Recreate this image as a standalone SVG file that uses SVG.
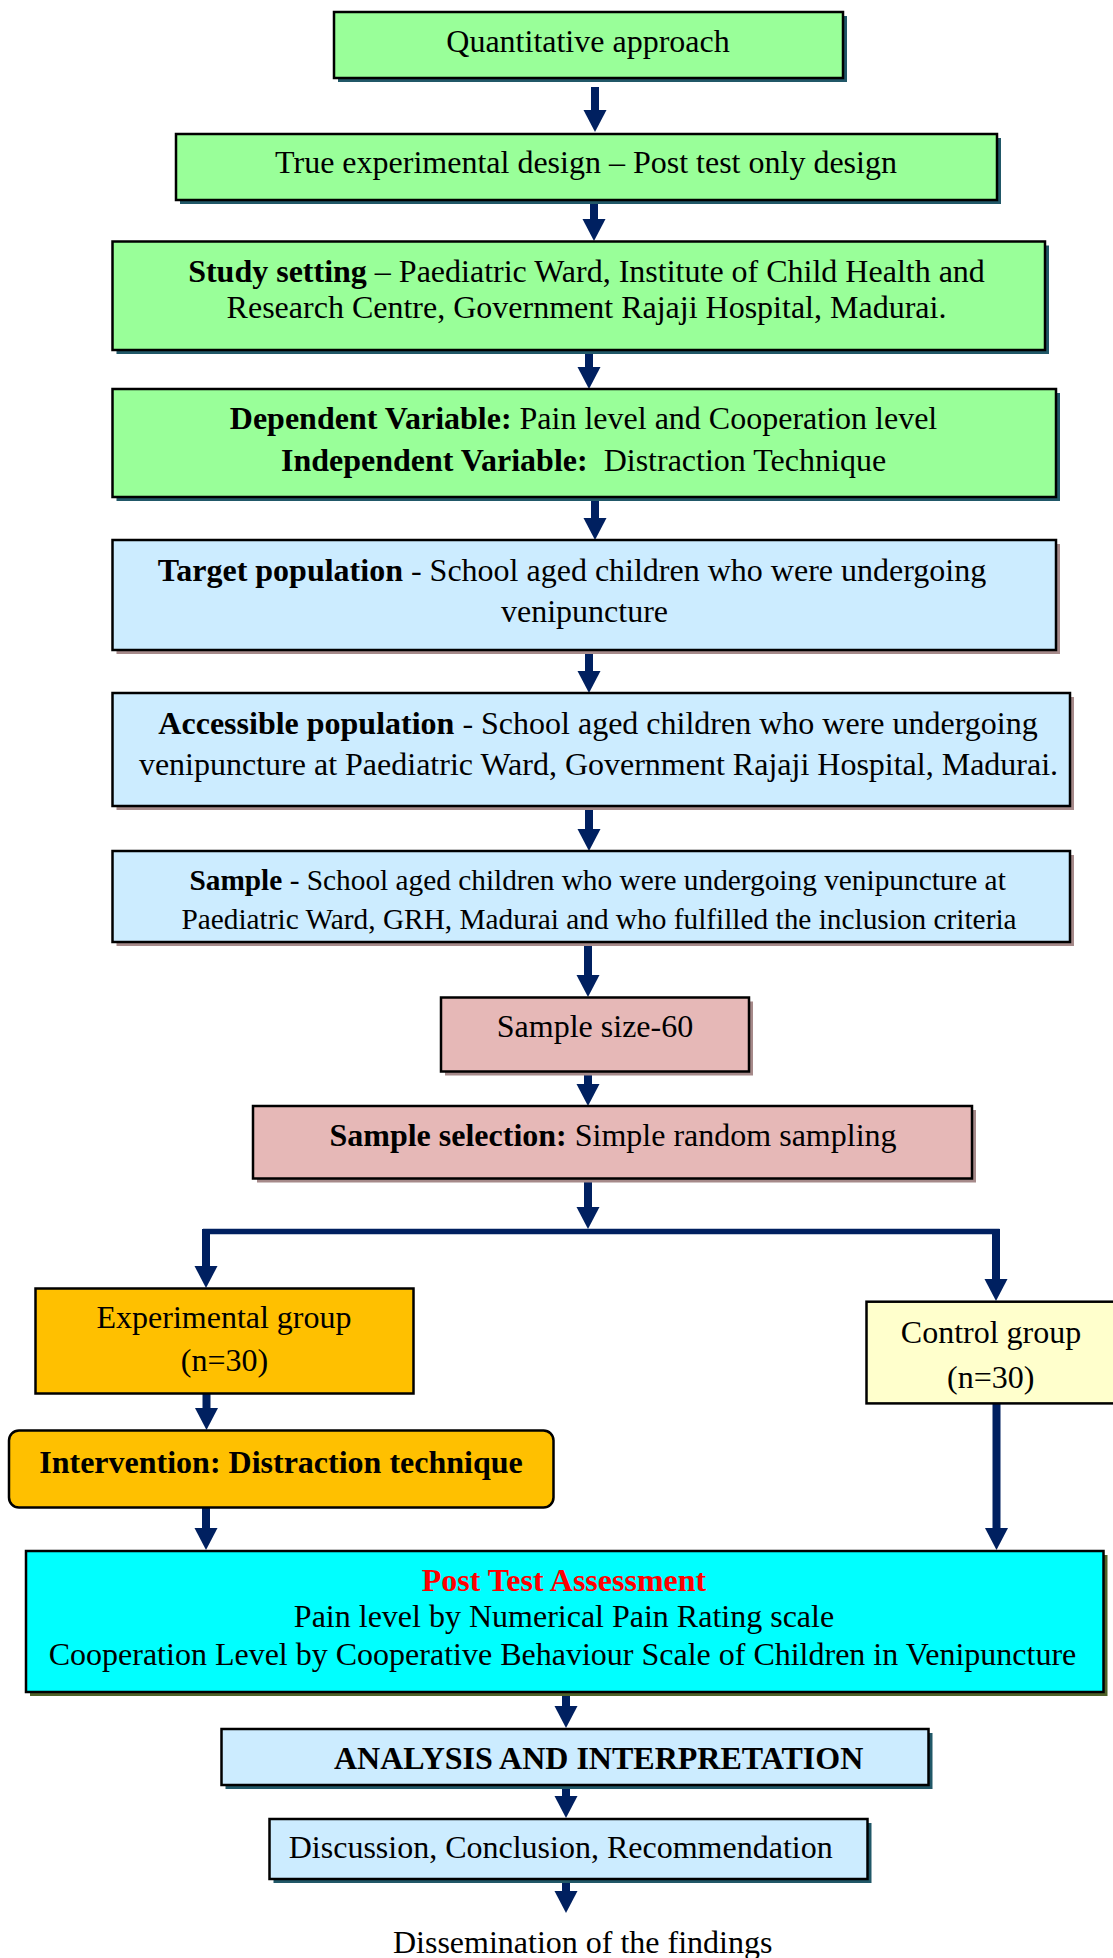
<svg xmlns="http://www.w3.org/2000/svg" width="1113" height="1958" viewBox="0 0 1113 1958">
<defs>
<marker id="ah" markerUnits="userSpaceOnUse" markerWidth="24" markerHeight="24" refX="0" refY="11.5" orient="auto">
<path d="M0,0 L22,11.5 L0,23 z" fill="#002060"/>
</marker>
<style>
.bx{stroke:#000;stroke-width:2.5}
.g{fill:#99FF99}.b{fill:#CCECFF}.p{fill:#E6B8B7}.o{fill:#FFC000}.y{fill:#FFFFCC}.c{fill:#00FFFF}
.sT{fill:#215868}.sR{fill:#A68A8A}.sO{fill:#4F6228}
text{font-family:"Liberation Serif","Times New Roman",serif;font-size:32px;fill:#000;text-anchor:middle}
.bd{font-weight:bold}
.sm{font-size:29.33px}
.red{fill:#FF0000;font-weight:bold}
.ar{stroke:#002060;stroke-width:8;fill:none;marker-end:url(#ah)}
.ln{stroke:#002060;stroke-width:5.5;fill:none}
</style>
</defs>

<g id="connectors">
<line class="ar" x1="595" y1="87" x2="595" y2="110"/>
<line class="ar" x1="594" y1="200" x2="594" y2="219"/>
<line class="ar" x1="589" y1="350" x2="589" y2="367"/>
<line class="ar" x1="595" y1="497" x2="595" y2="518"/>
<line class="ar" x1="589" y1="650" x2="589" y2="671"/>
<line class="ar" x1="589" y1="806" x2="589" y2="829"/>
<line class="ar" x1="588" y1="942" x2="588" y2="975"/>
<line class="ar" x1="588" y1="1071" x2="588" y2="1084"/>
<line class="ar" x1="588" y1="1178" x2="588" y2="1207"/>
<line class="ln" x1="203" y1="1231.5" x2="999.5" y2="1231.5"/>
<line class="ar" x1="206" y1="1229" x2="206" y2="1266"/>
<line class="ar" x1="996" y1="1229" x2="996" y2="1279"/>
<line class="ar" x1="206.5" y1="1393" x2="206.5" y2="1408"/>
<line class="ar" x1="206" y1="1508" x2="206" y2="1528"/>
<line class="ar" x1="996.5" y1="1403" x2="996.5" y2="1528"/>
<line class="ar" x1="566" y1="1692" x2="566" y2="1706"/>
<line class="ar" x1="566" y1="1785" x2="566" y2="1796"/>
<line class="ar" x1="566" y1="1880" x2="566" y2="1891"/>
</g>

<g id="n1">
<rect class="sT" x="338" y="16" width="509" height="66"/>
<rect class="bx g" x="334" y="12" width="509" height="66"/>
<text x="588" y="52">Quantitative approach</text>
</g>

<g id="n2">
<rect class="sT" x="180" y="138" width="821" height="66"/>
<rect class="bx g" x="176" y="134" width="821" height="66"/>
<text x="586" y="173">True experimental design – Post test only design</text>
</g>

<g id="n3">
<rect class="sT" x="116.5" y="245.5" width="932.5" height="108.5"/>
<rect class="bx g" x="112.5" y="241.5" width="932.5" height="108.5"/>
<text x="586.5" y="282"><tspan class="bd">Study setting</tspan> – Paediatric Ward, Institute of Child Health and</text>
<text x="586.5" y="318">Research Centre, Government Rajaji Hospital, Madurai.</text>
</g>

<g id="n4">
<rect class="sT" x="116.5" y="393" width="943.5" height="108"/>
<rect class="bx g" x="112.5" y="389" width="943.5" height="108"/>
<text x="583.5" y="429"><tspan class="bd">Dependent Variable:</tspan> Pain level and Cooperation level</text>
<text x="583.5" y="471"><tspan class="bd">Independent Variable:</tspan>&#160; Distraction Technique</text>
</g>

<g id="n5">
<rect class="sR" x="116.5" y="544" width="943.5" height="110"/>
<rect class="bx b" x="112.5" y="540" width="943.5" height="110"/>
<text x="572" y="581"><tspan class="bd">Target population</tspan> - School aged children who were undergoing</text>
<text x="584.5" y="622">venipuncture</text>
</g>

<g id="n6">
<rect class="sR" x="116.5" y="697" width="957.5" height="113"/>
<rect class="bx b" x="112.5" y="693" width="957.5" height="113"/>
<text x="598" y="734"><tspan class="bd">Accessible population</tspan> - School aged children who were undergoing</text>
<text x="598.5" y="775">venipuncture at Paediatric Ward, Government Rajaji Hospital, Madurai.</text>
</g>

<g id="n7">
<rect class="sR" x="116.5" y="855" width="957.5" height="91"/>
<rect class="bx b" x="112.5" y="851" width="957.5" height="91"/>
<text class="sm" x="597.6" y="890"><tspan class="bd">Sample</tspan> - School aged children who were undergoing venipuncture at</text>
<text class="sm" x="599" y="929">Paediatric Ward, GRH, Madurai and who fulfilled the inclusion criteria</text>
</g>

<g id="n8">
<rect class="sR" x="445" y="1001.5" width="308" height="74"/>
<rect class="bx p" x="441" y="997.5" width="308" height="74"/>
<text x="595" y="1037">Sample size-60</text>
</g>

<g id="n9">
<rect class="sR" x="257" y="1110" width="719" height="72.5"/>
<rect class="bx p" x="253" y="1106" width="719" height="72.5"/>
<text x="613" y="1146"><tspan class="bd">Sample selection:</tspan> Simple random sampling</text>
</g>

<g id="n10">
<rect class="bx o" x="35.5" y="1288.5" width="378" height="105"/>
<text x="224" y="1328">Experimental group</text>
<text x="224.5" y="1371">(n=30)</text>
</g>

<g id="n11">
<rect class="bx y" x="866.5" y="1301.7" width="260" height="101.7"/>
<text x="991" y="1343">Control group</text>
<text x="990.7" y="1388">(n=30)</text>
</g>

<g id="n12">
<rect class="bx o" x="9" y="1430.5" width="544.5" height="77" rx="10"/>
<text class="bd" x="281" y="1473">Intervention: Distraction technique</text>
</g>

<g id="n13">
<rect class="sO" x="30" y="1555" width="1077.5" height="141"/>
<rect class="bx c" x="26" y="1551" width="1077.5" height="141"/>
<text class="red" x="564" y="1591">Post Test Assessment</text>
<text x="564" y="1627">Pain level by Numerical Pain Rating scale</text>
<text x="562.5" y="1665">Cooperation Level by Cooperative Behaviour Scale of Children in Venipuncture</text>
</g>

<g id="n14">
<rect class="sT" x="225.5" y="1733" width="707" height="56"/>
<rect class="bx b" x="221.5" y="1729" width="707" height="56"/>
<text class="bd" x="598.6" y="1769">ANALYSIS AND INTERPRETATION</text>
</g>

<g id="n15">
<rect class="sT" x="273.5" y="1823" width="598" height="60"/>
<rect class="bx b" x="269.5" y="1819" width="598" height="60"/>
<text x="560.7" y="1858">Discussion, Conclusion, Recommendation</text>
</g>

<g id="n16">
<text x="582.7" y="1953">Dissemination of the findings</text>
</g>
</svg>
